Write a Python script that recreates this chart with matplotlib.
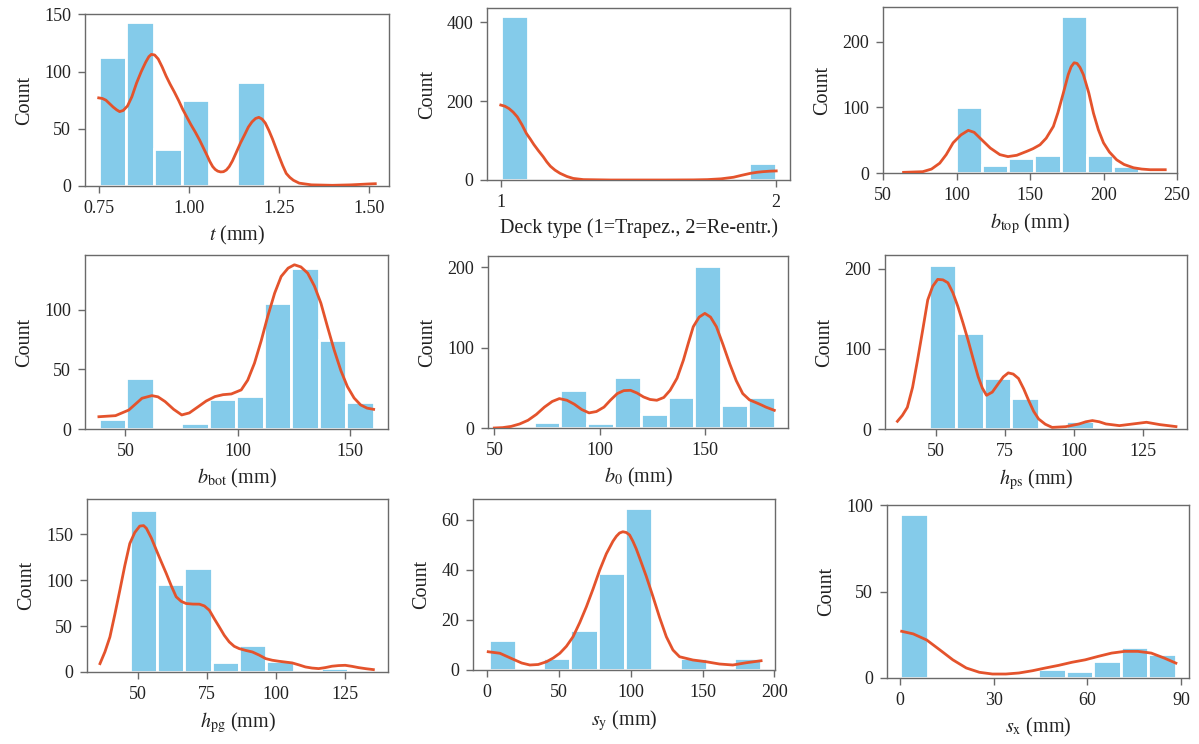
import matplotlib
matplotlib.use('Agg')
import matplotlib.pyplot as plt
import numpy as np

plt.rcParams['font.family'] = ['Liberation Serif', 'DejaVu Serif']
plt.rcParams['mathtext.fontset'] = 'stix'

# ---- histogram counts (10 bins between lo and hi) and KDE curves ----
t_range = (0.75, 1.517)
t_counts = [113, 143, 32, 75, 0, 91, 0, 0, 0, 1]
t_kde_x = [0.750, 0.760, 0.770, 0.780, 0.790, 0.800, 0.808, 0.818, 0.830, 0.842, 0.855, 0.868,
           0.880, 0.889, 0.896, 0.905, 0.915, 0.926, 0.937, 0.948, 0.960, 0.972, 0.983, 0.994,
           1.005, 1.018, 1.030, 1.040, 1.050, 1.058, 1.066, 1.073, 1.080, 1.088, 1.096, 1.104,
           1.112, 1.121, 1.131, 1.143, 1.155, 1.165, 1.175, 1.185, 1.194, 1.203, 1.212, 1.222,
           1.232, 1.241, 1.250, 1.260, 1.270, 1.280, 1.290, 1.306, 1.340, 1.398, 1.450, 1.500,
           1.517]
t_kde_y = [77, 76.5, 75, 72, 69, 66.5, 65, 66, 70, 78, 90, 100,
           108, 113, 115, 114.5, 111, 104, 96, 89, 82, 74.5, 67, 60.5,
           54, 47, 40, 33.5, 27, 21.5, 17, 14.5, 13, 12.3, 12.5, 14,
           17, 22, 29, 37.5, 45, 51.5, 56, 59, 60, 58.5, 55, 48.5,
           41, 33.5, 26, 18, 11, 7.5, 5, 2.5, 1, 0.6, 1, 1.8,
           2]

deck_range = (1.0, 2.0)
deck_counts = [415, 0, 0, 0, 0, 0, 0, 0, 0, 44]
deck_kde_x = [1.00, 1.015, 1.03, 1.045, 1.06, 1.077, 1.093, 1.107, 1.12, 1.137, 1.154, 1.167,
              1.18, 1.197, 1.215, 1.24, 1.263, 1.30, 1.40, 1.60, 1.70, 1.75, 1.80, 1.845,
              1.875, 1.907, 1.93, 1.95, 1.975, 2.00]
deck_kde_y = [190, 187, 181, 172, 160, 140, 118, 104, 90, 74, 59, 46,
              35, 25, 17, 9, 4, 1, 0, 0, 0.3, 1, 3, 7,
              12, 17, 19.5, 21, 22.3, 23]

btop_range = (64, 242)
btop_counts = [1, 0, 100, 12, 23, 28, 239, 28, 11, 1]
btop_kde_x = [64, 77, 83, 88.6, 93, 97.7, 103, 108, 112, 117, 123, 129.5, 135, 141, 147.8,
              152, 156.8, 161, 165.9, 169, 172.7, 176, 178, 180, 182, 184, 186.3, 190, 193.2,
              196.5, 200, 204, 209, 214, 220.4, 226, 231.8, 242]
btop_kde_y = [1, 2, 6, 15, 28, 46, 58, 65, 62, 51, 38, 28, 25, 27, 33,
              37, 43, 53, 71, 92, 122, 150, 162, 168, 167, 161, 150, 122, 91,
              66, 46, 32, 20, 13, 8, 6, 5, 5]

bbot_range = (38.2, 160.6)
bbot_counts = [8, 43, 0, 5, 25, 28, 106, 135, 75, 23]
bbot_kde_x = [38.2, 45.6, 51.5, 57.4, 61.8, 64.5, 67.7, 71.5, 75.1, 78.5, 82.5, 86, 89.9,
              93.5, 97.2, 101.6, 104.5, 107.5, 110.5, 113.4, 116.5, 119.4, 122.5, 125.3,
              128.2, 131.2, 134.2, 137.1, 140, 143, 146, 148.9, 151.9, 154.8, 157.7, 160.6]
bbot_kde_y = [10.3, 11.2, 15.9, 25.8, 28, 27, 23, 16.5, 11.8, 13.5, 18.8, 23.5, 27.2,
              28.8, 29.4, 32.8, 41, 55.2, 74, 94.4, 114, 128, 135, 137.8,
              136, 130.8, 120, 105.6, 86, 66.4, 49, 35.6, 26, 20.2, 17.5, 16.5]

b0_range = (55.9, 183.3)
b0_counts = [1, 8, 47, 6, 63, 17, 39, 202, 28, 39]
b0_kde_x = [50, 54, 58, 62, 66, 70, 73.8, 77.5, 80.9, 84.5, 88, 91.5, 95, 98.5, 102.1,
            105.3, 108.4, 111.5, 114.7, 117.8, 120.9, 124, 127.2, 130.5, 133.5, 136.8,
            139.8, 142.2, 144.5, 147.3, 150, 152.7, 155.5, 158.6, 161.8, 164.9, 168,
            171.2, 174.3, 177, 179, 183]
b0_kde_y = [0, 0.5, 2, 5, 9.6, 17, 26, 33, 36.6, 34.5, 29.6, 23, 18.8, 20.5, 26,
            35, 42.8, 46.5, 46.9, 43.5, 38.6, 35.5, 34.5, 38, 46.9, 62,
            84.3, 106, 126, 138, 142.6, 138, 126, 104, 80, 59, 42.8,
            35, 31.6, 28.5, 26, 22]

hps_range = (37.5, 137)
hps_counts = [1, 205, 120, 64, 39, 0, 10, 3, 4, 3]
hps_kde_x = [36, 37.8, 39.6, 41.5, 43.3, 45.2, 47, 48.8, 50.6, 52.5, 54.3, 56.1, 57.9,
             59.8, 61.6, 63.5, 65.3, 66.8, 68.3, 70.4, 72.6, 74.4, 76.2, 78, 79.9, 81.8,
             83.6, 85.4, 87.2, 89.6, 92.1, 97, 101.9, 104.3, 106.7, 109.2, 111.6, 116.5,
             121.4, 126.3, 131.1, 137]
hps_kde_y = [9.6, 17, 27, 52, 86, 124, 161, 178, 186.6, 186, 182.4, 170, 153,
             132, 111, 87, 65, 51, 42, 46, 56.6, 65, 70, 68.5, 63, 50,
             35.5, 22, 12.5, 6, 2, 2.9, 6.3, 9, 10.5, 9, 6.3, 4.2,
             6.3, 8.4, 5.5, 3]

hpg_range = (37, 136)
hpg_counts = [2, 177, 96, 113, 11, 29, 12, 0, 4, 2]
hpg_kde_x = [36.2, 38, 39.8, 41.6, 43.4, 45.2, 47, 48.8, 50.6, 52, 53, 54.8, 56.6, 58.4,
             60.2, 62, 63.8, 65.6, 67.4, 69.8, 72.2, 74, 75.8, 77.6, 79.4, 81.2, 83,
             84.8, 86.6, 89, 91.4, 93.8, 96.2, 98.6, 101, 103.4, 105.8, 108.2, 110.6,
             113, 115.4, 117.8, 120.2, 122.6, 125, 127.4, 129.8, 132.5, 135.2]
hpg_kde_y = [9.1, 22, 38.2, 63, 89.2, 116, 140, 152, 159, 159.5, 156.6, 146, 132.9, 120,
             107.4, 94, 81.9, 77, 74.6, 74, 73.9, 72, 67.3, 58, 49.1, 40, 32.8,
             28, 25.5, 23.5, 21.8, 18.5, 14.6, 12.8, 11.7, 10.8, 9.9, 7.8, 5.5,
             4.3, 3.7, 4.8, 6.3, 7, 7.3, 6.2, 4.8, 3.6, 2.6]

sy_range = (1, 191)
sy_counts = [12, 0, 5, 16, 39, 65, 0, 5, 0, 5]
sy_kde_x = [0.7, 8.8, 18.1, 24, 29.7, 35.5, 41.3, 46, 50.6, 55.2, 59.8, 64.5, 69.1, 73.8,
            78.4, 83, 87.6, 90, 92.2, 94.5, 96.9, 99.2, 101.5, 103.8, 106.2, 110.8, 115.4,
            120.1, 124.8, 129.4, 134, 143.3, 152.6, 161.8, 171.1, 180.4, 190.8]
sy_kde_y = [7.3, 6.7, 4.3, 2.8, 2, 2.2, 3.3, 4.8, 6.7, 9.5, 13.3, 19, 25.3, 32.5,
            40, 46.5, 51.5, 53.5, 54.8, 55.3, 55, 54, 51.5, 48.5, 44.8, 37.5, 29.5,
            21, 13.3, 8, 5.3, 4, 3.3, 2.4, 2, 2.9, 3.7]

sx_range = (0, 88.4)
sx_counts = [95, 0, 0, 0, 0, 5, 4, 10, 18, 14]
sx_kde_x = [0.5, 4.2, 8.5, 12.7, 16.9, 21.2, 25.4, 29.6, 33.9, 38.1, 42.4, 46.6, 50.8,
            55.1, 59.3, 63.5, 67.8, 72, 76.2, 80.5, 84.7, 88.4]
sx_kde_y = [27, 25.5, 22, 16.3, 10.5, 5.8, 3.3, 2.3, 2.3, 2.9, 4.2, 5.8, 7.3,
            9.1, 10.5, 12.5, 14.4, 15.4, 15.4, 14.4, 11.5, 8.6]

BAR_COLOR = '#84cbea'
KDE_COLOR = '#e4532c'
SPINE_COLOR = '#6a6a6a'

W, H = 1199, 744
fig = plt.figure(figsize=(W / 100, H / 100), dpi=100)


def rect(l, r, t, b):
    return [l / W, 1 - b / H, (r - l) / W, (b - t) / H]


panels = [
    # (box, range, counts, kde_x, kde_y, xlim, ylim, xticks, yticks, xlabel, xfmt)
    (rect(85, 389, 14, 186), t_range, t_counts, t_kde_x, t_kde_y, (0.712, 1.555), 150.3,
     [0.75, 1.00, 1.25, 1.50], [0, 50, 100, 150], r'$t$ (mm)', '{:.2f}'),
    (rect(487, 790, 8, 180), deck_range, deck_counts, deck_kde_x, deck_kde_y, (0.95, 2.05), 436,
     [1, 2], [0, 200, 400], 'Deck type (1=Trapez., 2=Re-entr.)', '{:g}'),
    (rect(883, 1177, 7, 173), btop_range, btop_counts, btop_kde_x, btop_kde_y, (50, 250), 253,
     [50, 100, 150, 200, 250], [0, 100, 200], r'$b_{\mathrm{top}}$ (mm)', '{:g}'),
    (rect(85, 388, 255, 429), bbot_range, bbot_counts, bbot_kde_x, bbot_kde_y, (32, 167), 146,
     [50, 100, 150], [0, 50, 100], r'$b_{\mathrm{bot}}$ (mm)', '{:g}'),
    (rect(488, 788, 256, 428), b0_range, b0_counts, b0_kde_x, b0_kde_y, (47, 189.5), 214,
     [50, 100, 150], [0, 100, 200], r'$b_{0}$ (mm)', '{:g}'),
    (rect(885, 1187, 255, 429), hps_range, hps_counts, hps_kde_x, hps_kde_y, (31.5, 141), 217,
     [50, 75, 100, 125], [0, 100, 200], r'$h_{\mathrm{ps}}$ (mm)', '{:g}'),
    (rect(87, 388, 499, 672), hpg_range, hpg_counts, hpg_kde_x, hpg_kde_y, (31.5, 140.5), 188.5,
     [50, 75, 100, 125], [0, 50, 100, 150], r'$h_{\mathrm{pg}}$ (mm)', '{:g}'),
    (rect(473, 775, 499, 670), sy_range, sy_counts, sy_kde_x, sy_kde_y, (-9.9, 200.5), 68.4,
     [0, 50, 100, 150, 200], [0, 20, 40, 60], r'$s_{\mathrm{y}}$ (mm)', '{:g}'),
    (rect(887, 1189, 505, 678), sx_range, sx_counts, sx_kde_x, sx_kde_y, (-4.2, 92.6), 100,
     [0, 30, 60, 90], [0, 50, 100], r'$s_{\mathrm{x}}$ (mm)', '{:g}'),
]

for box, rng, counts, kx, ky, xlim, ytop, xticks, yticks, xlabel, xfmt in panels:
    ax = fig.add_axes(box)
    edges = np.linspace(rng[0], rng[1], len(counts) + 1)
    ax.bar(edges[:-1], counts, width=np.diff(edges), align='edge',
           color=BAR_COLOR, edgecolor='white', linewidth=2.0, zorder=2)
    ax.plot(kx, ky, color=KDE_COLOR, linewidth=2.0, zorder=3, solid_joinstyle='round')
    ax.set_xlim(*xlim)
    ax.set_ylim(0, ytop)
    ax.set_xticks(xticks)
    ax.set_xticklabels([xfmt.format(v) for v in xticks])
    ax.set_yticks(yticks)
    for s in ax.spines.values():
        s.set_color(SPINE_COLOR)
        s.set_linewidth(1.0)
    ax.tick_params(axis='both', colors=SPINE_COLOR, labelcolor='#222222',
                   labelsize=13, length=5, width=1, pad=5)
    ax.set_xlabel(xlabel, fontsize=14.5, color='#222222', labelpad=5)
    ax.set_ylabel('Count', fontsize=14.5, color='#222222', labelpad=7)

fig.savefig('out.png', dpi=100)
